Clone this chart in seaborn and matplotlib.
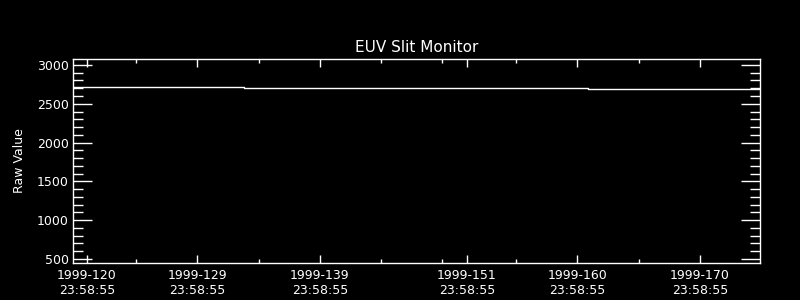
import matplotlib
matplotlib.use("Agg")
import matplotlib.pyplot as plt
from matplotlib.ticker import FixedLocator, MultipleLocator
import seaborn as sns
import pandas as pd

# Data (day of year 1999, raw value) - step series
days = [118.86, 132.8, 160.9, 174.9]
raw_values = [2715, 2703, 2690, 2690]

tick_days = [120, 129, 139, 151, 160, 170]
tick_labels = ["1999-120\n23:58:55", "1999-129\n23:58:55", "1999-139\n23:58:55",
               "1999-151\n23:58:55", "1999-160\n23:58:55", "1999-170\n23:58:55"]
minor_days = [124, 134, 144, 149, 155, 165]

sns.set_style("dark", {"axes.facecolor": "black", "figure.facecolor": "black"})
plt.rcParams["font.family"] = ["DejaVu Sans"]

df = pd.DataFrame({"day": days, "value": raw_values})

fig = plt.figure(figsize=(8, 3), dpi=100, facecolor="black")
ax = fig.add_axes([73/800, 1-263/300, (760-73)/800, (263-59)/300])
ax.set_facecolor("black")

sns.lineplot(data=df, x="day", y="value", ax=ax, color="white", lw=1.0,
             drawstyle="steps-post")

ax.set_xlim(118.86, 174.9)
ax.set_ylim(448, 3077)

ax.xaxis.set_major_locator(FixedLocator(tick_days))
ax.set_xticklabels(tick_labels)
ax.xaxis.set_minor_locator(FixedLocator(minor_days))
ax.yaxis.set_major_locator(MultipleLocator(500))
ax.yaxis.set_minor_locator(MultipleLocator(100))

ax.tick_params(axis="x", which="major", direction="in", length=6, width=1,
               colors="white", labelsize=9, top=True, bottom=True, pad=4)
ax.tick_params(axis="x", which="minor", direction="in", length=3, width=1,
               colors="white", top=True, bottom=True)
ax.tick_params(axis="y", which="major", direction="in", length=14, width=1,
               colors="white", labelsize=9, left=True, right=True, pad=3)
ax.tick_params(axis="y", which="minor", direction="in", length=7, width=1,
               colors="white", left=True, right=True)

for s in ax.spines.values():
    s.set_color("white")
    s.set_linewidth(1)
    s.set_visible(True)

ax.grid(False)
ax.set_xlabel("")
ax.set_ylabel("Raw Value", color="white", fontsize=9, labelpad=8)
ax.set_title("EUV Slit Monitor", color="white", fontsize=11, pad=5)

fig.savefig("out.png", dpi=100, facecolor="black")
